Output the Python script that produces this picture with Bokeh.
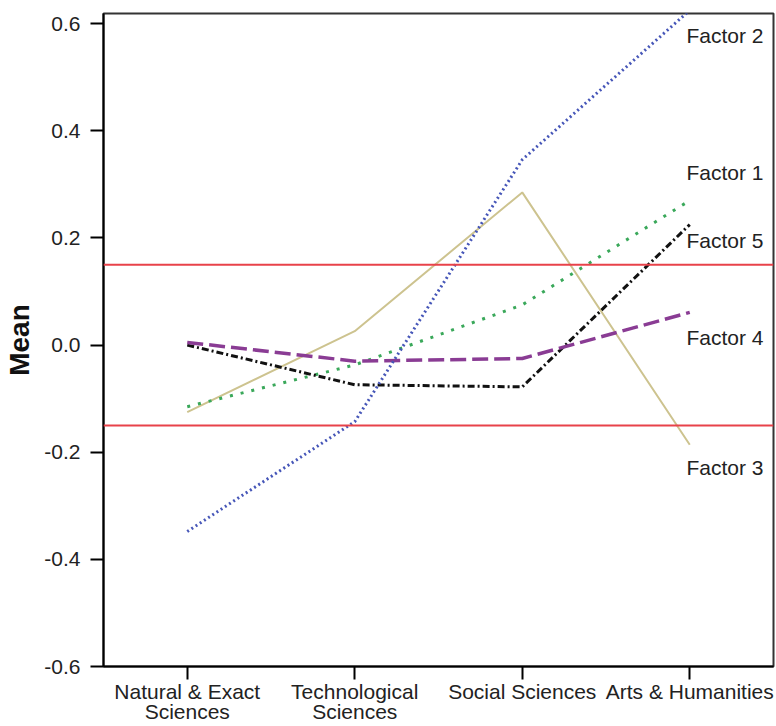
from bokeh.plotting import figure
from bokeh.models import FixedTicker, Range1d, Span
from bokeh.core.properties import value
from bokeh.embed import file_html
from bokeh.resources import INLINE

categories = ["Natural & Exact\nSciences", "Technological\nSciences", "Social Sciences", "Arts & Humanities"]
x_idx = [0, 1, 2, 3]

factor1 = [-0.115, -0.037, 0.075, 0.27]
factor2 = [-0.348, -0.143, 0.346, 0.625]
factor3 = [-0.125, 0.026, 0.285, -0.186]
factor4 = [0.005, -0.030, -0.025, 0.061]
factor5 = [0.000, -0.074, -0.078, 0.225]

thresholds = [0.15, -0.15]

y_ticks = [-0.6, -0.4, -0.2, 0.0, 0.2, 0.4, 0.6]
y_tick_labels = ["-0.6", "-0.4", "-0.2", "0.0", "0.2", "0.4", "0.6"]

label_names = ["Factor 2", "Factor 1", "Factor 5", "Factor 4", "Factor 3"]
label_y = [0.577, 0.322, 0.196, 0.015, -0.229]
label_x = [2.98, 2.98, 2.98, 2.98, 2.98]

FONT = "Liberation Sans"

p = figure(width=776, height=726, output_backend="svg", toolbar_location=None,
           x_range=Range1d(-0.5, 3.5), y_range=Range1d(-0.6, 0.619),
           min_border_left=103, min_border_right=3, min_border_top=13, min_border_bottom=59)

p.xgrid.visible = False
p.ygrid.visible = False
p.background_fill_color = "white"
p.border_fill_color = "white"
p.outline_line_color = "#333333"
p.outline_line_width = 2

# axes
p.xaxis.ticker = FixedTicker(ticks=x_idx)
p.xaxis.major_label_overrides = {i: c for i, c in zip(x_idx, categories)}
p.yaxis.ticker = FixedTicker(ticks=y_ticks)
p.yaxis.major_label_overrides = {t: l for t, l in zip(y_ticks, y_tick_labels)}
for ax in (p.xaxis[0], p.yaxis[0]):
    ax.axis_line_color = "black"
    ax.axis_line_width = 2
    ax.major_tick_line_color = "black"
    ax.major_tick_line_width = 2
    ax.major_tick_out = 13
    ax.major_tick_in = 0
    ax.minor_tick_line_color = None
    ax.major_label_text_font = FONT
    ax.major_label_text_font_size = "21px"
    ax.major_label_text_color = "#222222"
p.xaxis.major_label_text_line_height = 0.9
p.yaxis.major_label_standoff = 10
p.xaxis.major_label_standoff = 0
p.yaxis.axis_label = "Mean"
p.yaxis.axis_label_text_font = FONT
p.yaxis.axis_label_text_font_size = "28px"
p.yaxis.axis_label_text_font_style = "bold"
p.yaxis.axis_label_text_color = "#111111"
p.yaxis.axis_label_standoff = 6

# threshold lines
for t in thresholds:
    p.add_layout(Span(location=t, dimension="width", line_color="#e8424a", line_width=2))

# series
p.line(x_idx, factor3, line_color="#cdc38f", line_width=2)
p.line(x_idx, factor1, line_color="#3aa85a", line_width=3, line_dash="3 8")
p.line(x_idx, factor5, line_color="#111111", line_width=3, line_dash="7 3 2 3")
p.line(x_idx, factor4, line_color="#8a3c94", line_width=3.5, line_dash="16 6")
p.line(x_idx, factor2, line_color="#4656b8", line_width=3, line_dash="2 3")

p.text(x=label_x, y=label_y, text=label_names, text_font=value(FONT),
       text_font_size="21px", text_color="#222222", text_baseline="middle", text_align="left")

open("out.html", "w").write(file_html(p, INLINE))
